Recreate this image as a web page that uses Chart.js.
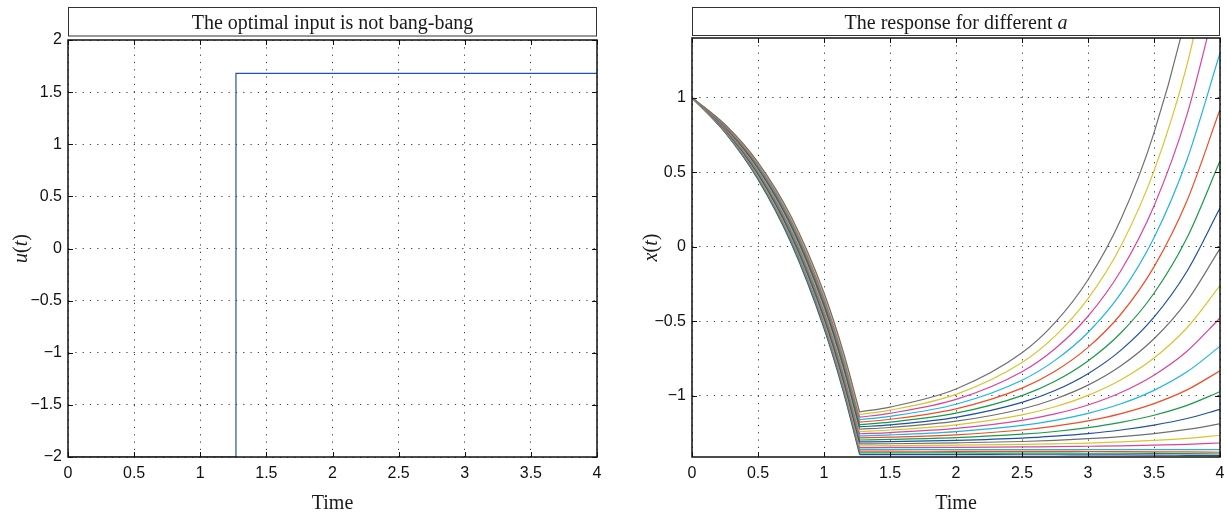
<!DOCTYPE html>
<html lang="en">
<head>
<meta charset="UTF-8">
<title>Optimal input and response</title>
<script src="https://cdn.jsdelivr.net/npm/chart.js"></script>
<style>
  body { margin: 0; background: #fff; overflow: hidden; }
  #wrap { position: relative; width: 1227px; height: 515px; overflow: hidden; }
  canvas { position: absolute; top: 0; }
</style>
</head>
<body>
<div id="wrap">
  <canvas id="inputChart" width="614" height="515" style="left:0"></canvas>
  <canvas id="responseChart" width="620" height="515" style="left:614px"></canvas>
</div>
<script>
// ---- data ----
const xTicks = [0, 0.5, 1, 1.5, 2, 2.5, 3, 3.5, 4];
const inputTicks = [-2, -1.5, -1, -0.5, 0, 0.5, 1, 1.5, 2];
const responseTicks = [-1, -0.5, 0, 0.5, 1];

// left panel: u(t), switches at t = 1.27
const uTimes = [0, 1.27, 1.27, 4];
const uValues = [-2, -2, 1.68, 1.68];

// right panel: one curve per value of a
const aValues = [1.20, 1.21, 1.22, 1.23, 1.24, 1.25, 1.26, 1.27, 1.28, 1.29, 1.30,
                 1.31, 1.32, 1.33, 1.34, 1.35, 1.36, 1.37, 1.38, 1.39, 1.40];

// before the switch
const tBefore = [0, 0.25, 0.5, 0.75, 1, 1.15, 1.27];
const xBefore = [
  [1, 0.767, 0.452, 0.027, -0.547, -0.983, -1.394],
  [1, 0.769, 0.457, 0.035, -0.537, -0.972, -1.383],
  [1, 0.772, 0.463, 0.043, -0.526, -0.961, -1.371],
  [1, 0.775, 0.468, 0.051, -0.516, -0.950, -1.359],
  [1, 0.777, 0.474, 0.060, -0.505, -0.938, -1.347],
  [1, 0.780, 0.479, 0.068, -0.494, -0.926, -1.335],
  [1, 0.783, 0.485, 0.076, -0.483, -0.914, -1.322],
  [1, 0.785, 0.490, 0.085, -0.472, -0.902, -1.309],
  [1, 0.788, 0.496, 0.093, -0.461, -0.889, -1.296],
  [1, 0.791, 0.501, 0.102, -0.449, -0.876, -1.282],
  [1, 0.793, 0.507, 0.111, -0.437, -0.863, -1.268],
  [1, 0.796, 0.513, 0.120, -0.425, -0.849, -1.254],
  [1, 0.799, 0.518, 0.129, -0.413, -0.836, -1.239],
  [1, 0.801, 0.524, 0.138, -0.401, -0.822, -1.224],
  [1, 0.804, 0.530, 0.147, -0.388, -0.807, -1.208],
  [1, 0.807, 0.536, 0.156, -0.376, -0.793, -1.193],
  [1, 0.809, 0.542, 0.166, -0.363, -0.778, -1.176],
  [1, 0.812, 0.548, 0.175, -0.350, -0.763, -1.160],
  [1, 0.815, 0.554, 0.185, -0.337, -0.747, -1.143],
  [1, 0.818, 0.560, 0.194, -0.323, -0.732, -1.125],
  [1, 0.820, 0.566, 0.204, -0.309, -0.716, -1.108]
];

// after the switch
const tAfter = [1.27, 1.5, 2, 2.5, 2.75, 3, 3.25, 3.5, 3.75, 4];
const xAfter = [
  [-1.394, -1.394, -1.394, -1.395, -1.395, -1.396, -1.396, -1.397, -1.399, -1.401],
  [-1.383, -1.383, -1.383, -1.384, -1.384, -1.385, -1.385, -1.386, -1.388, -1.390],
  [-1.371, -1.371, -1.372, -1.372, -1.372, -1.373, -1.374, -1.375, -1.376, -1.378],
  [-1.359, -1.359, -1.360, -1.360, -1.360, -1.360, -1.360, -1.360, -1.361, -1.361],
  [-1.347, -1.346, -1.345, -1.342, -1.341, -1.338, -1.335, -1.331, -1.325, -1.316],
  [-1.335, -1.334, -1.331, -1.326, -1.322, -1.317, -1.309, -1.299, -1.285, -1.264],
  [-1.322, -1.321, -1.315, -1.306, -1.298, -1.287, -1.273, -1.253, -1.225, -1.188],
  [-1.309, -1.307, -1.298, -1.283, -1.270, -1.253, -1.229, -1.196, -1.152, -1.090],
  [-1.296, -1.292, -1.280, -1.257, -1.239, -1.213, -1.178, -1.130, -1.064, -0.972],
  [-1.282, -1.277, -1.261, -1.229, -1.203, -1.168, -1.119, -1.052, -0.960, -0.832],
  [-1.268, -1.262, -1.240, -1.198, -1.164, -1.117, -1.053, -0.963, -0.839, -0.668],
  [-1.254, -1.246, -1.218, -1.164, -1.121, -1.061, -0.977, -0.861, -0.701, -0.478],
  [-1.239, -1.229, -1.194, -1.127, -1.073, -0.997, -0.892, -0.746, -0.543, -0.260],
  [-1.224, -1.212, -1.170, -1.088, -1.021, -0.928, -0.798, -0.617, -0.364, -0.012],
  [-1.208, -1.194, -1.144, -1.044, -0.964, -0.851, -0.693, -0.472, -0.164, 0.260],
  [-1.193, -1.176, -1.116, -0.998, -0.902, -0.766, -0.577, -0.312, 0.060, 0.575],
  [-1.176, -1.157, -1.087, -0.948, -0.835, -0.675, -0.451, -0.135, 0.308, 0.920],
  [-1.160, -1.137, -1.056, -0.895, -0.762, -0.575, -0.311, 0.061, 0.584, 1.300],
  [-1.143, -1.117, -1.024, -0.838, -0.684, -0.466, -0.159, 0.274, 0.886, 1.750],
  [-1.125, -1.096, -0.990, -0.776, -0.599, -0.348, 0.007, 0.509, 1.220, 2.227],
  [-1.108, -1.075, -0.954, -0.711, -0.509, -0.221, 0.186, 0.764, 1.585, 2.750]
];

// colour order: b g r c m y k
const lineColours = ['#1f4fa4', '#189a48', '#f04c26', '#1cb5e4', '#da449b', '#d6c530', '#6f6f6f'];

const serif = "'Liberation Serif', 'Times New Roman', serif";
const sans = "'Liberation Sans', Arial, sans-serif";

function tickText(v) {
  return v < 0 ? '\u2212' + Math.abs(v) : String(v);
}

// text made of pieces, some italic
function drawParts(ctx, parts, cx, cy, size) {
  const fonts = parts.map(p => (p[1] ? 'italic ' : '') + size + 'px ' + serif);
  let total = 0;
  const widths = parts.map((p, i) => { ctx.font = fonts[i]; const w = ctx.measureText(p[0]).width; total += w; return w; });
  let x = cx - total / 2;
  ctx.textBaseline = 'alphabetic';
  ctx.textAlign = 'left';
  parts.forEach((p, i) => {
    ctx.font = fonts[i];
    ctx.fillText(p[0], x, cy + size * 0.33);
    x += widths[i];
  });
}

// matlab style frame, inward ticks, boxed title and axis labels
const panelDecor = {
  id: 'panelDecor',
  afterDatasetsDraw(chart) {
    const {ctx, chartArea: a, scales: {x, y}} = chart;
    ctx.save();
    ctx.strokeStyle = '#111';
    ctx.lineWidth = 1;
    ctx.beginPath();
    x.ticks.forEach(t => {
      const px = Math.round(x.getPixelForValue(t.value)) + 0.5;
      ctx.moveTo(px, a.bottom); ctx.lineTo(px, a.bottom - 5);
      ctx.moveTo(px, a.top); ctx.lineTo(px, a.top + 5);
    });
    y.ticks.forEach(t => {
      const py = Math.round(y.getPixelForValue(t.value)) + 0.5;
      ctx.moveTo(a.left, py); ctx.lineTo(a.left + 5, py);
      ctx.moveTo(a.right, py); ctx.lineTo(a.right - 5, py);
    });
    ctx.stroke();
    ctx.lineWidth = 1.5;
    ctx.strokeRect(a.left, a.top, a.right - a.left, a.bottom - a.top);
    ctx.restore();
  },
  afterDraw(chart, args, opts) {
    const {ctx, chartArea: a} = chart;
    ctx.save();
    // title box
    ctx.fillStyle = '#fff';
    ctx.fillRect(a.left, opts.boxTop, a.right - a.left, opts.boxBottom - opts.boxTop);
    ctx.strokeStyle = '#333';
    ctx.lineWidth = 1;
    ctx.strokeRect(a.left + 0.5, opts.boxTop + 0.5, a.right - a.left - 1, opts.boxBottom - opts.boxTop);
    ctx.fillStyle = '#1a1a1a';
    drawParts(ctx, opts.title, (a.left + a.right) / 2, (opts.boxTop + opts.boxBottom) / 2 + 1, 20);
    // x label
    drawParts(ctx, [['Time', false]], (a.left + a.right) / 2, 502, 20);
    // y label
    ctx.translate(opts.yLabelX, (a.top + a.bottom) / 2);
    ctx.rotate(-Math.PI / 2);
    drawParts(ctx, opts.yLabel, 0, 0, 20);
    ctx.restore();
  }
};

function xAxis() {
  return {
    type: 'linear', min: 0, max: 4,
    afterBuildTicks: s => { s.ticks = xTicks.map(v => ({value: v})); },
    afterFit: s => { s.height = 58; },
    grid: { color: '#3a3a3a', lineWidth: 1, drawTicks: false },
    border: { display: false, dash: [1.2, 6.1] },
    ticks: { padding: 7, color: '#111', font: { family: sans, size: 16 }, maxRotation: 0, autoSkip: false, callback: v => tickText(v) }
  };
}

function yAxis(min, max, list, width) {
  return {
    type: 'linear', min: min, max: max,
    afterBuildTicks: s => { s.ticks = list.map(v => ({value: v})); },
    afterFit: s => { s.width = width; },
    grid: { color: '#3a3a3a', lineWidth: 1, drawTicks: false },
    border: { display: false, dash: [1.2, 6.1] },
    ticks: { padding: 6, color: '#111', font: { family: sans, size: 16 }, autoSkip: false, callback: v => tickText(v) }
  };
}

function curve(ts, xs, colour) {
  return {
    data: ts.map((t, i) => ({x: t, y: xs[i]})),
    borderColor: colour,
    borderWidth: 1.2,
    pointRadius: 0,
    fill: false,
    cubicInterpolationMode: 'monotone'
  };
}

const common = {
  responsive: false,
  animation: false,
  events: [],
  plugins: { legend: { display: false }, tooltip: { enabled: false } }
};

// left: the optimal input
new Chart(document.getElementById('inputChart'), {
  type: 'line',
  data: {
    datasets: [{
      data: uTimes.map((t, i) => ({x: t, y: uValues[i]})),
      borderColor: '#2452a6',
      borderWidth: 1.2,
      borderJoinStyle: 'miter',
      pointRadius: 0,
      fill: false,
      tension: 0
    }]
  },
  options: Object.assign({}, common, {
    layout: { padding: { left: 0, top: 40, right: 17, bottom: 0 } },
    scales: { x: xAxis(), y: yAxis(-2, 2, inputTicks, 68) },
    plugins: Object.assign({}, common.plugins, {
      panelDecor: {
        title: [['The optimal input is not bang-bang', false]],
        yLabel: [['u', true], ['(', false], ['t', true], [')', false]],
        yLabelX: 20, boxTop: 7, boxBottom: 35.5
      }
    })
  }),
  plugins: [panelDecor]
});

// right: the response for different a, largest a drawn on top
const responseSets = [];
for (let i = aValues.length - 1; i >= 0; i--) {
  const colour = lineColours[i % lineColours.length];
  responseSets.push(curve(tBefore, xBefore[i], colour));
  responseSets.push(curve(tAfter, xAfter[i], colour));
}

new Chart(document.getElementById('responseChart'), {
  type: 'line',
  data: { datasets: responseSets },
  options: Object.assign({}, common, {
    layout: { padding: { left: 0, top: 38, right: 14, bottom: 0 } },
    scales: { x: xAxis(), y: yAxis(-1.41, 1.4, responseTicks, 78) },
    plugins: Object.assign({}, common.plugins, {
      panelDecor: {
        title: [['The response for different ', false], ['a', true]],
        yLabel: [['x', true], ['(', false], ['t', true], [')', false]],
        yLabelX: 36, boxTop: 7, boxBottom: 35
      }
    })
  }),
  plugins: [panelDecor]
});
</script>
</body>
</html>
